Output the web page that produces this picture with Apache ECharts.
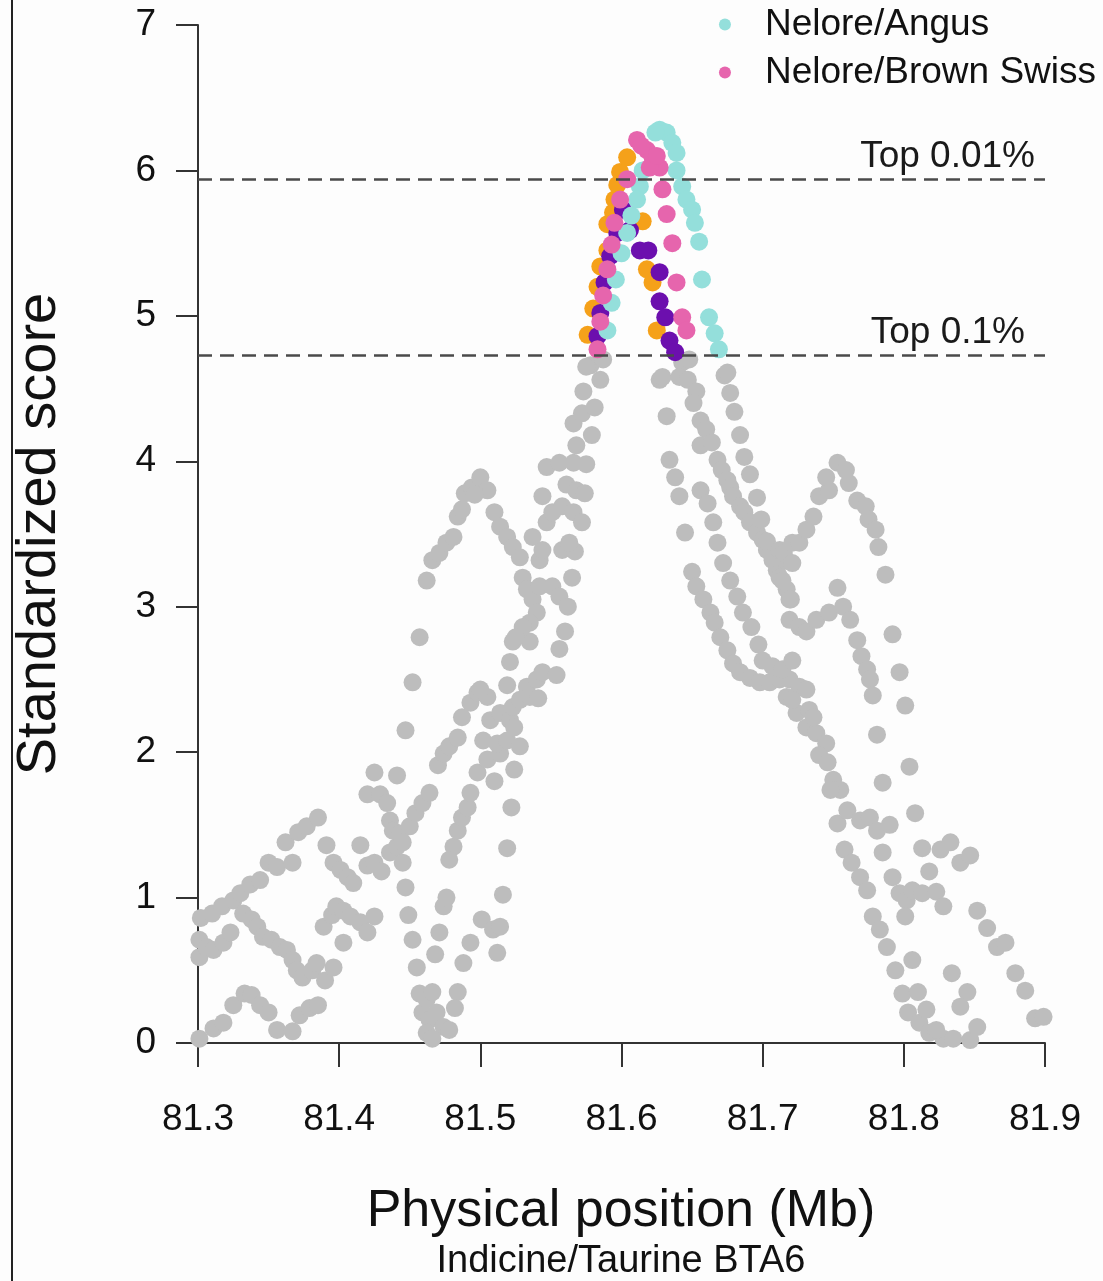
<!DOCTYPE html>
<html>
<head>
<meta charset="utf-8">
<script src="https://cdn.jsdelivr.net/npm/echarts@6/dist/echarts.min.js"></script>
<style>
  html, body { margin: 0; padding: 0; background: #fdfdfd; }
  #chart { width: 1103px; height: 1281px; }
</style>
</head>
<body>
<div id="chart"></div>
<script>
// tick labels
var xTicks = [81.3, 81.4, 81.5, 81.6, 81.7, 81.8, 81.9];
var yTicks = [0, 1, 2, 3, 4, 5, 6, 7];

// significance thresholds
var thresholdValues = [5.94, 4.73];
var thresholdLabels = ['Top 0.01%', 'Top 0.1%'];

// gray points (all comparisons, below threshold), [Mb, score]
var grayLeft = [
  [81.301,0.03],[81.311,0.10],[81.318,0.14],[81.325,0.26],[81.333,0.34],[81.338,0.33],[81.344,0.26],
  [81.350,0.21],[81.356,0.09],[81.367,0.08],[81.372,0.19],[81.379,0.24],[81.385,0.26],
  [81.301,0.71],[81.301,0.59],[81.306,0.66],[81.311,0.64],[81.318,0.69],[81.323,0.76],
  [81.302,0.86],[81.310,0.89],[81.317,0.94],[81.325,0.98],[81.330,1.03],[81.337,1.09],[81.344,1.12],
  [81.350,1.24],[81.356,1.21],[81.362,1.38],[81.367,1.24],[81.371,1.45],[81.377,1.49],[81.385,1.55],
  [81.391,1.36],[81.396,1.24],[81.401,1.19],[81.406,1.14],[81.410,1.10],[81.415,1.36],[81.420,1.22],
  [81.425,1.24],[81.430,1.18],[81.436,1.31],[81.441,1.35],[81.445,1.24],
  [81.332,0.89],[81.338,0.85],[81.342,0.80],[81.346,0.73],[81.352,0.71],[81.358,0.66],[81.363,0.64],
  [81.367,0.57],[81.370,0.50],[81.374,0.45],[81.381,0.50],[81.384,0.55],[81.390,0.43],[81.396,0.52],
  [81.389,0.80],[81.395,0.88],[81.398,0.94],[81.403,0.91],[81.408,0.87],[81.415,0.83],[81.420,0.76],
  [81.425,0.87],[81.403,0.69],
  [81.420,1.71],[81.425,1.86],[81.429,1.71],[81.434,1.65],[81.436,1.53],[81.438,1.46],[81.441,1.84],
  [81.443,1.44],[81.445,1.38],[81.450,1.49],[81.454,1.58],[81.459,1.65],
  [81.447,1.07],[81.449,0.88],[81.452,0.71],[81.455,0.52],[81.457,0.34],[81.459,0.21],
  [81.447,2.15],[81.452,2.48],[81.457,2.79]
];
var grayMidLeft = [
  [81.462,0.30],[81.466,0.35],[81.464,0.16],[81.469,0.21],[81.462,0.07],[81.474,0.11],[81.478,0.09],
  [81.466,0.03],[81.484,0.35],[81.482,0.24],
  [81.468,0.61],[81.471,0.76],[81.474,0.94],[81.476,1.00],
  [81.488,0.55],[81.493,0.69],[81.501,0.85],[81.509,0.78],[81.514,0.80],[81.512,0.62],
  [81.464,1.72],[81.481,1.35],[81.484,1.46],[81.487,1.55],[81.491,1.62],[81.493,1.72],[81.478,1.26],
  [81.470,1.91],[81.474,1.99],[81.478,2.04],[81.484,2.10],[81.487,2.24],[81.493,2.34],[81.498,2.41],
  [81.505,2.38],[81.500,2.43],
  [81.498,1.86],[81.510,1.80],[81.505,1.95],[81.514,1.99],[81.524,1.88],[81.502,2.08],[81.512,2.06],
  [81.519,2.08],[81.528,2.04],[81.507,2.22],[81.514,2.27],[81.521,2.22],[81.524,2.17],
  [81.519,2.46],[81.523,2.31],[81.528,2.36],[81.533,2.45],[81.535,2.38],[81.541,2.37],[81.540,2.50],
  [81.544,2.55],[81.554,2.53],[81.521,2.62],[81.523,2.76],[81.535,2.76],[81.556,2.71],[81.560,2.83],
  [81.522,1.62],[81.519,1.34],[81.516,1.02],
  [81.462,3.18],[81.466,3.32],[81.471,3.37],[81.476,3.44],[81.481,3.48],[81.484,3.62],[81.487,3.67],
  [81.489,3.78],[81.494,3.82],[81.500,3.89],[81.505,3.80],[81.496,3.77],[81.510,3.65],[81.514,3.55],
  [81.519,3.48],[81.523,3.41],[81.528,3.34],
  [81.530,3.20],[81.533,3.12],[81.537,3.05],[81.540,2.96],[81.535,2.89],[81.530,2.86],[81.525,2.79],
  [81.537,3.48],[81.542,3.32],[81.544,3.39],[81.544,3.76],[81.547,3.58],[81.551,3.65],[81.558,3.69],
  [81.566,3.65],[81.572,3.58],
  [81.547,3.96],[81.556,3.99],[81.566,3.99],[81.575,3.98],[81.561,3.84],[81.568,3.80],[81.574,3.78],
  [81.568,4.11],[81.579,4.18],[81.566,4.26],[81.572,4.33],[81.581,4.37],[81.573,4.48],[81.585,4.56],
  [81.578,4.66],[81.587,4.70],[81.575,4.65],
  [81.558,3.39],[81.567,3.38],[81.563,3.44],[81.565,3.20],[81.542,3.14],[81.551,3.14],[81.556,3.07],
  [81.562,3.00]
];
var grayMidRight = [
  [81.627,4.56],[81.629,4.58],[81.632,4.31],[81.634,4.01],[81.638,3.89],[81.641,3.76],[81.645,3.51],
  [81.650,3.24],[81.653,3.14],[81.658,3.05],[81.663,2.96],[81.666,2.89],[81.670,2.79],[81.675,2.70],
  [81.679,2.61],[81.684,2.55],[81.691,2.51],[81.698,2.48],[81.705,2.48],[81.712,2.50],[81.719,2.50],
  [81.726,2.45],[81.731,2.43],
  [81.643,4.68],[81.648,4.70],[81.641,4.58],[81.647,4.56],[81.653,4.48],[81.651,4.40],[81.656,4.28],
  [81.660,4.22],[81.656,4.11],[81.664,4.13],[81.668,4.01],[81.671,3.94],[81.675,3.87],[81.677,3.82],
  [81.679,3.76],[81.684,3.69],[81.687,3.65],[81.691,3.58],[81.696,3.51],[81.700,3.46],[81.703,3.39],
  [81.707,3.32],[81.710,3.25],[81.712,3.20],[81.717,3.12],[81.720,3.05],
  [81.656,3.80],[81.661,3.71],[81.665,3.58],[81.668,3.44],[81.672,3.30],[81.677,3.18],[81.682,3.07],
  [81.686,2.96],[81.692,2.86],[81.697,2.74],[81.700,2.63],[81.707,2.59],[81.714,2.57],[81.721,2.63],
  [81.673,4.59],[81.675,4.61],[81.677,4.47],[81.680,4.34],[81.684,4.18],[81.687,4.03],[81.691,3.91],
  [81.696,3.75],[81.699,3.60],[81.703,3.45],[81.707,3.34],
  [81.712,3.39],[81.716,3.32],[81.715,3.37],[81.721,3.30],[81.714,3.18],[81.719,3.05],
  [81.721,3.44],[81.726,3.44],[81.731,3.53],[81.736,3.62],[81.740,3.76],[81.747,3.80],[81.745,3.89],
  [81.719,2.91],[81.726,2.86],[81.731,2.83],[81.738,2.91],[81.747,2.96],
  [81.717,2.38],[81.724,2.27],[81.733,2.29],[81.731,2.17],[81.738,2.13],[81.745,2.06],[81.740,1.98],
  [81.746,1.93],[81.750,1.81],[81.755,1.74],[81.748,1.74],[81.721,2.36],[81.736,2.24]
];
var grayRight = [
  [81.753,3.99],[81.759,3.94],[81.761,3.85],[81.767,3.73],[81.773,3.69],[81.775,3.60],[81.780,3.53],
  [81.782,3.41],[81.787,3.22],
  [81.753,3.13],[81.757,3.00],[81.762,2.91],[81.767,2.77],[81.770,2.66],[81.774,2.57],[81.776,2.50],
  [81.778,2.39],
  [81.792,2.81],[81.797,2.55],[81.801,2.32],[81.804,1.90],[81.808,1.58],
  [81.781,2.12],[81.785,1.79],[81.785,1.31],
  [81.753,1.51],[81.760,1.60],[81.769,1.53],[81.776,1.55],[81.781,1.46],[81.790,1.50],
  [81.758,1.33],[81.763,1.24],[81.769,1.14],[81.774,1.05],[81.778,0.87],[81.783,0.78],[81.788,0.66],
  [81.794,0.50],[81.799,0.34],[81.803,0.21],[81.811,0.14],[81.818,0.07],[81.828,0.03],
  [81.792,1.14],[81.797,1.03],[81.802,0.98],[81.801,0.87],[81.806,1.05],[81.813,1.03],[81.823,1.04],
  [81.828,0.94],
  [81.806,0.57],[81.810,0.35],[81.816,0.23],[81.823,0.09],[81.835,0.03],[81.847,0.02],
  [81.813,1.34],[81.826,1.33],[81.833,1.38],[81.840,1.24],[81.847,1.29],[81.818,1.18],
  [81.834,0.48],[81.845,0.35],[81.840,0.25],[81.852,0.11],
  [81.852,0.91],[81.859,0.79],[81.866,0.66],[81.872,0.69],[81.879,0.48],[81.886,0.36],[81.893,0.17],
  [81.899,0.18]
];

// points above threshold, per comparison
var orangePts = [
  [81.576,4.87],[81.580,5.05],[81.583,5.20],[81.585,5.34],[81.590,5.45],[81.590,5.63],[81.594,5.71],
  [81.595,5.80],[81.597,5.90],[81.599,5.99],[81.604,6.09],[81.615,5.65],[81.618,5.32],[81.622,5.23],
  [81.625,4.90]
];
var purplePts = [
  [81.583,4.86],[81.585,5.02],[81.588,5.23],[81.592,5.41],[81.597,5.57],[81.601,5.73],[81.606,5.59],
  [81.613,5.45],[81.619,5.45],[81.627,5.30],[81.627,5.10],[81.631,4.99],[81.634,4.83],[81.638,4.75]
];
var angusPts = [
  [81.627,6.28],[81.632,6.26],[81.636,6.19],[81.639,6.12],[81.639,6.00],[81.643,5.89],[81.646,5.80],
  [81.650,5.73],[81.652,5.64],[81.655,5.51],[81.657,5.25],[81.662,4.99],[81.666,4.88],[81.669,4.77],
  [81.615,6.00],[81.613,5.89],[81.611,5.80],[81.607,5.69],[81.604,5.57],[81.600,5.43],[81.596,5.25],
  [81.593,5.09],[81.590,4.90],[81.624,6.26]
];
var brownSwissPts = [
  [81.611,6.21],[81.618,6.14],[81.622,6.09],[81.627,6.02],[81.620,6.02],[81.604,5.94],[81.599,5.80],
  [81.595,5.64],[81.593,5.49],[81.590,5.32],[81.587,5.14],[81.585,4.96],[81.583,4.77],[81.629,5.87],
  [81.632,5.70],[81.636,5.50],[81.639,5.23],[81.643,4.99],[81.646,4.90],[81.614,6.17],[81.625,6.10]
];

var FONT = 'Liberation Sans, Arial, sans-serif';
var DOT = 18;

function pts(name, data, color) {
  return {
    name: name,
    type: 'scatter',
    data: data,
    symbolSize: DOT,
    itemStyle: { color: color, opacity: 1 },
    silent: true,
    clip: false
  };
}

var chart = echarts.init(document.getElementById('chart'));

var grayAll = grayLeft.concat(grayMidLeft, grayMidRight, grayRight);

// label offsets from the right end of each dashed line
var labelShift = [[10, 4], [20, 4]];

var graySeries = pts('gray', grayAll, '#bdbdbd');
graySeries.markLine = {
  silent: true,
  symbol: 'none',
  lineStyle: { color: '#4a4a4a', width: 2.5, type: [14, 8] },
  label: {
    position: 'insideEndTop',
    fontSize: 37,
    fontFamily: FONT,
    color: '#1a1a1a',
    formatter: function (p) { return p.name; }
  },
  data: thresholdValues.map(function (v, i) {
    return { yAxis: v, name: thresholdLabels[i], label: { distance: labelShift[i] } };
  })
};

chart.setOption({
  backgroundColor: '#fdfdfd',
  animation: false,
  grid: { left: 198, right: 58, top: 25, bottom: 238 },
  legend: {
    data: ['Nelore/Angus', 'Nelore/Brown Swiss'],
    orient: 'vertical',
    right: 2,
    top: 1,
    icon: 'circle',
    itemWidth: 12,
    itemHeight: 12,
    itemGap: 11,
    textStyle: { fontSize: 37, fontFamily: FONT, color: '#111', padding: [0, 0, 0, 29], lineHeight: 37 }
  },
  xAxis: {
    type: 'value',
    min: xTicks[0],
    max: xTicks[xTicks.length - 1],
    interval: 0.1,
    axisLine: { show: true, onZero: false, lineStyle: { color: '#333', width: 2 } },
    axisTick: { show: true, length: 24, lineStyle: { color: '#333', width: 2 } },
    axisLabel: {
      margin: 58, fontSize: 37, fontFamily: FONT, color: '#111',
      formatter: function (v) { return v.toFixed(1); }
    },
    splitLine: { show: false }
  },
  yAxis: {
    type: 'value',
    min: yTicks[0],
    max: yTicks[yTicks.length - 1],
    interval: 1,
    name: 'Standardized score',
    nameLocation: 'middle',
    nameGap: 130,
    nameTextStyle: { fontSize: 56, fontFamily: FONT, color: '#111' },
    axisLine: { show: true, lineStyle: { color: '#333', width: 2 } },
    axisTick: { show: true, length: 22, lineStyle: { color: '#333', width: 2 } },
    axisLabel: { margin: 42, fontSize: 37, fontFamily: FONT, color: '#111' },
    splitLine: { show: false }
  },
  graphic: [
    {
      type: 'line',
      shape: { x1: 12, y1: 0, x2: 12, y2: 1281 },
      style: { stroke: '#222', lineWidth: 2 }
    },
    {
      type: 'text',
      x: 621, y: 1212,
      style: { text: 'Physical position (Mb)', fontSize: 52, fontFamily: FONT, fill: '#111', align: 'center', verticalAlign: 'middle' }
    },
    {
      type: 'text',
      x: 621, y: 1262,
      style: { text: 'Indicine/Taurine BTA6', fontSize: 38, fontFamily: FONT, fill: '#111', align: 'center', verticalAlign: 'middle' }
    }
  ],
  series: [
    graySeries,
    pts('Nelore/comparison A', orangePts, '#f5a11a'),
    pts('Nelore/comparison B', purplePts, '#6c0fae'),
    pts('Nelore/Angus', angusPts, '#94dfdb'),
    pts('Nelore/Brown Swiss', brownSwissPts, '#e665ad')
  ]
});
</script>
</body>
</html>
